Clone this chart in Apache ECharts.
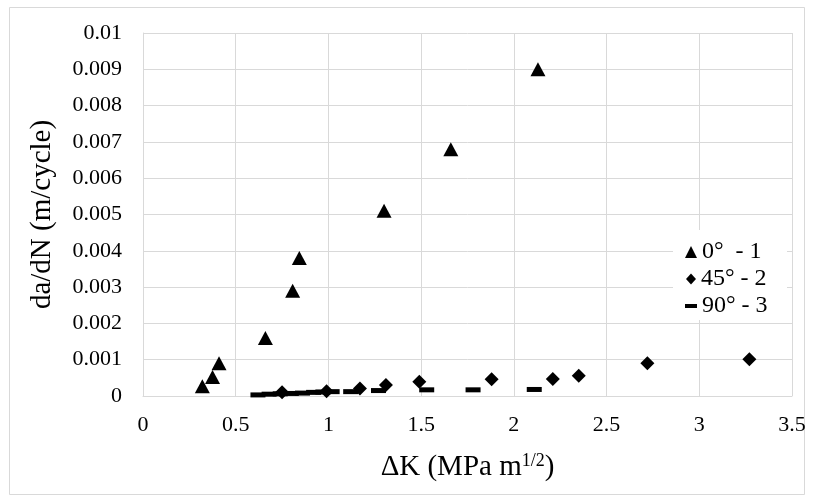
<!DOCTYPE html>
<html><head><meta charset="utf-8">
<script src="https://cdn.jsdelivr.net/npm/echarts@6/dist/echarts.min.js"></script>
<style>html,body{margin:0;padding:0;background:#fff;font-family:"Liberation Serif",serif}#c{width:813px;height:500px}</style>
</head><body><div id="c"></div>
<script>
var xTicks = [0, 0.5, 1, 1.5, 2, 2.5, 3, 3.5];
var yTicks = [0, 0.001, 0.002, 0.003, 0.004, 0.005, 0.006, 0.007, 0.008, 0.009, 0.01];

var s1Name = '0°  - 1';
var s1X = [0.32, 0.375, 0.41, 0.66, 0.807, 0.843, 1.30, 1.66, 2.13];
var s1Y = [0.00027, 0.00052, 0.0009, 0.0016, 0.0029, 0.0038, 0.0051, 0.0068, 0.0090];

var s2Name = '45° - 2';
var s2X = [0.75, 0.99, 1.17, 1.31, 1.49, 1.88, 2.21, 2.35, 2.72, 3.27];
var s2Y = [0.0001, 0.00013, 0.00021, 0.0003, 0.00039, 0.00046, 0.00047, 0.00056, 0.0009, 0.00101];

var s3Name = '90° - 3';
var s3X = [0.62, 0.68, 0.74, 0.80, 0.86, 0.92, 0.97, 1.02, 1.12, 1.27, 1.53, 1.78, 2.11];
var s3Y = [0.00003, 0.00005, 0.00006, 0.00007, 0.00008, 0.0001, 0.00011, 0.00012, 0.00012, 0.00015, 0.00017, 0.00017, 0.00018];

function pairs(xs, ys){ return xs.map(function(x,i){ return [x, ys[i]]; }); }

var FONT = "'Liberation Serif', 'Times New Roman', 'DejaVu Serif', serif";
var GRID = '#d9d9d9';
var chart = echarts.init(document.getElementById('c'), null, {renderer:'canvas'});
chart.setOption({
  animation: false,
  backgroundColor: '#fff',
  textStyle: {fontFamily: FONT, color: '#000'},
  grid: {left: 143, right: 21, top: 33, bottom: 104, containLabel: false},
  xAxis: {
    type: 'value', min: xTicks[0], max: xTicks[xTicks.length-1], interval: 0.5,
    axisLine: {show: true, lineStyle: {color: GRID, width: 1}},
    axisTick: {show: false},
    splitLine: {show: true, lineStyle: {color: GRID, width: 1}},
    axisLabel: {fontFamily: FONT, fontSize: 22, color: '#000', margin: 18},
    name: '{a|ΔK (MPa m}{s|1/2}{a|)}', nameLocation: 'middle', nameGap: 56,
    nameTextStyle: {fontFamily: FONT, rich: {a: {fontFamily: FONT, fontSize: 29, color: '#000'}, s: {fontFamily: FONT, fontSize: 18, color: '#000', verticalAlign: 'top', padding:[0,0,13,0]}}}
  },
  yAxis: {
    type: 'value', min: yTicks[0], max: yTicks[yTicks.length-1], interval: 0.001,
    axisLine: {show: true, lineStyle: {color: GRID, width: 1}},
    axisTick: {show: false},
    splitLine: {show: true, lineStyle: {color: GRID, width: 1}},
    axisLabel: {fontFamily: FONT, fontSize: 22, color: '#000', margin: 21,
      formatter: function(v){ return String(parseFloat(v.toFixed(4))); }},
    name: 'da/dN (m/cycle)', nameLocation: 'middle', nameGap: 86,
    nameTextStyle: {fontFamily: FONT, fontSize: 29, color: '#000'}
  },
  graphic: [
    {type: 'rect', shape: {x: 9.5, y: 7.5, width: 795, height: 487}, style: {fill: 'none', stroke: GRID, lineWidth: 1}, z: 0, silent: true},
    {type: 'rect', shape: {x: 673, y: 230, width: 114, height: 90}, style: {fill: '#fff'}, z: 1, silent: true}
  ],
  legend: [
    {data: [{name: s1Name, icon: 'triangle'}], left: 685, top: 240, itemWidth: 12, itemHeight: 12, padding: 0, itemGap: 0,
     textStyle: {fontFamily: FONT, fontSize: 24, color: '#000'}},
    {data: [{name: s2Name, icon: 'diamond'}], left: 686, top: 267, itemWidth: 10, itemHeight: 11, padding: 0, itemGap: 0,
     textStyle: {fontFamily: FONT, fontSize: 24, color: '#000'}},
    {data: [{name: s3Name, icon: 'rect'}], left: 685, top: 294, itemWidth: 12, itemHeight: 4, padding: 0, itemGap: 0,
     textStyle: {fontFamily: FONT, fontSize: 24, color: '#000'}}
  ],
  series: [
    {name: s1Name, type: 'scatter', data: pairs(s1X, s1Y), symbol: 'triangle', symbolSize: [15, 14], itemStyle: {color: '#000', opacity: 1}, z: 3},
    {name: s2Name, type: 'scatter', data: pairs(s2X, s2Y), symbol: 'diamond', symbolSize: [14, 14], itemStyle: {color: '#000', opacity: 1}, z: 3},
    {name: s3Name, type: 'scatter', data: pairs(s3X, s3Y), symbol: 'rect', symbolSize: [15, 5], itemStyle: {color: '#000', opacity: 1}, z: 3}
  ]
});
</script></body></html>
